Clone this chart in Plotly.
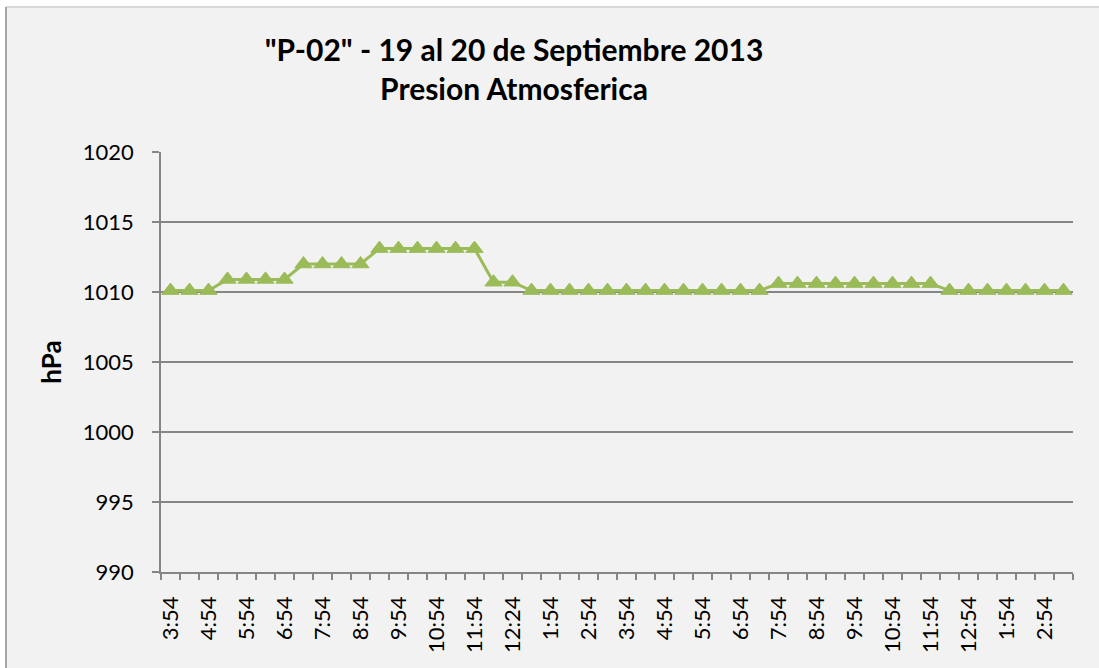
import plotly.graph_objects as go

tick_labels = ["3:54", "4:54", "5:54", "6:54", "7:54", "8:54", "9:54", "10:54",
               "11:54", "12:24", "1:54", "2:54", "3:54", "4:54", "5:54", "6:54",
               "7:54", "8:54", "9:54", "10:54", "11:54", "12:54", "1:54", "2:54"]

pressure = ([1010.1] * 3 + [1010.9] * 4 + [1012.0] * 4 + [1013.1] * 6 +
            [1010.7] * 2 + [1010.1] * 13 + [1010.6] * 9 + [1010.1] * 7)

x_idx = list(range(len(pressure)))
label_pos = x_idx[::2]

GREEN = "#9BBB59"
GRID = "#868686"
FONT = "Lato"

fig = go.Figure()
fig.add_trace(go.Scatter(
    x=x_idx, y=pressure, mode="lines+markers",
    line=dict(color=GREEN, width=3),
    marker=dict(symbol="triangle-up", size=15, color=GREEN,
                line=dict(color=GREEN, width=1)),
    showlegend=False, hoverinfo="skip"))

L, R, T, B = 161, 1073, 152, 572
W, H = 1099, 668

def px_x(p):
    return (p - L) / (R - L)

def px_y(p):
    return (B - p) / (B - T)

fig.add_shape(type="rect", xref="paper", yref="paper",
              x0=px_x(6), x1=px_x(1130), y0=px_y(700), y1=px_y(7),
              fillcolor="#F2F2F2", line=dict(width=0),
              layer="below")
fig.add_shape(type="line", xref="paper", yref="paper",
              x0=px_x(6), x1=px_x(1130), y0=px_y(7), y1=px_y(7),
              line=dict(color="#D9D9D9", width=2), layer="below")
fig.add_shape(type="line", xref="paper", yref="paper",
              x0=px_x(6), x1=px_x(6), y0=px_y(700), y1=px_y(7),
              line=dict(color="#A6A6A6", width=2), layer="below")

fig.update_layout(
    width=W, height=H,
    margin=dict(l=L, r=W - R, t=T, b=H - B, pad=0),
    paper_bgcolor="white", plot_bgcolor="rgba(0,0,0,0)",
    font=dict(family=FONT, color="black"),
    title=dict(text='"P-02" - 19 al 20 de Septiembre 2013<br>Presion Atmosferica',
               x=514 / W, xanchor="center", xref="container",
               y=1 - 61 / H, yanchor="top", yref="container",
               font=dict(family=FONT, size=30, color="black", weight="bold")),
    xaxis=dict(
        range=[-0.5, len(pressure) - 0.5],
        tickmode="array", tickvals=label_pos, ticktext=tick_labels,
        tickangle=-90, ticks="", ticklabelstandoff=14,
        tickfont=dict(family=FONT, size=22, color="black"),
        showgrid=False, zeroline=False,
        showline=True, linecolor=GRID, linewidth=1.5,
        minor=dict(tickmode="linear", tick0=-0.5, dtick=1, ticks="outside",
                   ticklen=6, tickcolor=GRID, tickwidth=1.5, showgrid=False),
    ),
    yaxis=dict(
        range=[990, 1020], tickmode="linear", tick0=990, dtick=5,
        ticks="outside", ticklen=7, tickcolor=GRID, tickwidth=1.5,
        tickfont=dict(family=FONT, size=22, color="black"),
        ticklabelstandoff=14,
        showgrid=True, gridcolor=GRID, gridwidth=1.5, zeroline=False,
        showline=True, linecolor=GRID, linewidth=1.5,
        title=dict(text="hPa", standoff=14,
                   font=dict(family=FONT, size=26, color="black", weight="bold")),
    ),
)

fig.write_html("out.html", config={"displayModeBar": False},
               post_script="document.body.style.margin='0';document.body.style.overflow='hidden';")
